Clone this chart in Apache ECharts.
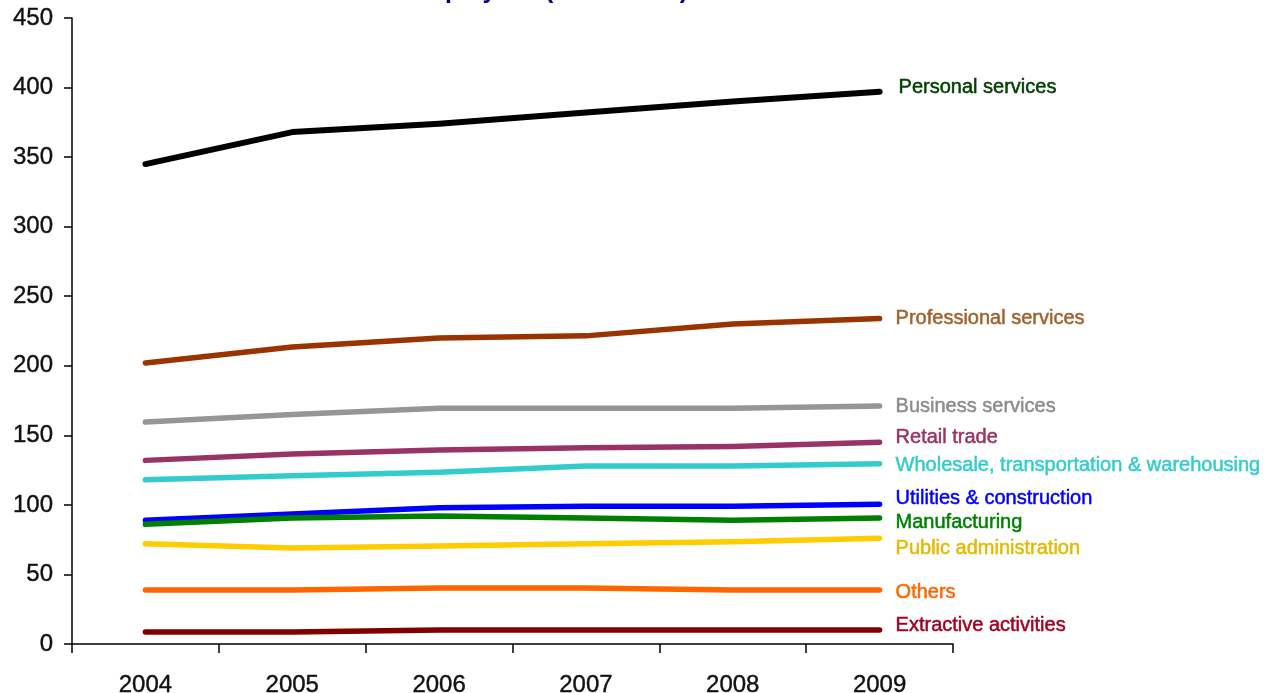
<!DOCTYPE html>
<html>
<head>
<meta charset="utf-8">
<script src="https://cdn.jsdelivr.net/npm/echarts@6/dist/echarts.min.js"></script>
<style>html,body{margin:0;padding:0;background:#fff}#c{width:1280px;height:693px}</style>
</head>
<body>
<div id="c"></div>
<script>
const years = ['2004','2005','2006','2007','2008','2009'];
const seriesNames = ['Personal services','Professional services','Business services','Retail trade','Wholesale, transportation & warehousing','Utilities & construction','Manufacturing','Public administration','Others','Extractive activities'];
const personal      = [345, 368, 374, 382, 390, 397];
const professional  = [202, 213.5, 220, 221.5, 230, 234];
const business      = [159.5, 165, 169.5, 169.5, 169.5, 171];
const retail        = [132, 136.5, 139.5, 141, 142, 145];
const wholesale     = [118, 121, 123.5, 128, 128, 129.5];
const utilities     = [89, 93.5, 98, 99, 99, 100.5];
const manufacturing = [86, 90.5, 92, 90.5, 89, 90.5];
const publicAdmin   = [72, 69, 70.5, 72, 73.5, 76];
const others        = [38.8, 38.8, 40.3, 40.3, 38.8, 38.8];
const extractive    = [8.6, 8.6, 10, 10, 10, 10];
const yTicks = [0,50,100,150,200,250,300,350,400,450];

const values = [personal, professional, business, retail, wholesale, utilities, manufacturing, publicAdmin, others, extractive];
const lineColors  = ['#000000','#993300','#969696','#993366','#33CCCC','#0000FF','#008000','#FFCC00','#FF6600','#800000'];
const labelColors = ['#004000','#A0622D','#8C8C8C','#993366','#33CCCC','#0000FF','#008000','#E6B800','#FF6600','#A50021'];
const labelDy     = [-4, 0, 0, -5, 2, -6, 4, 10, 2, -5];
const FONT = '"Liberation Sans", Arial, sans-serif';

const chart = echarts.init(document.getElementById('c'), null, {renderer:'canvas'});
chart.setOption({
  animation:false,
  backgroundColor:'#fff',
  graphic:[{
    type:'text', left:406, top:-21,
    style:{text:'Employees (thousands)', fill:'#000080', font:'bold 25px "Liberation Sans", Arial, sans-serif'}
  }],
  grid:{left:72, right:327, top:18, bottom:49, containLabel:false, outerBoundsMode:'none'},
  xAxis:{
    type:'category', data:years, boundaryGap:true,
    axisLine:{lineStyle:{color:'#000', width:1.5}},
    axisTick:{show:true, alignWithLabel:false, length:9, lineStyle:{color:'#000', width:1.5}},
    axisLabel:{color:'#111', fontSize:24, fontFamily:FONT, margin:29, textBorderColor:'#111', textBorderWidth:0.4},
    splitLine:{show:false}
  },
  yAxis:{
    type:'value', min:0, max:450, interval:50,
    axisLine:{show:true, lineStyle:{color:'#000', width:1.5}},
    axisTick:{show:true, length:8, lineStyle:{color:'#000', width:1.5}},
    axisLabel:{color:'#111', fontSize:24, fontFamily:FONT, margin:19, textBorderColor:'#111', textBorderWidth:0.4,
      formatter:v => yTicks.includes(v) ? String(v) : ''},
    splitLine:{show:false}
  },
  series: values.map((d,i)=>({
    name: seriesNames[i],
    type:'line',
    data:d,
    symbol:'none',
    lineStyle:{color:lineColors[i], width:i===0 ? 6 : 5.5, cap:'round', join:'round'},
    itemStyle:{color:lineColors[i]},
    endLabel:{
      show:true,
      formatter: seriesNames[i],
      color: labelColors[i],
      fontSize: 20,
      fontFamily: FONT,
      textBorderColor: labelColors[i],
      textBorderWidth: 0.5,
      distance: i===0 ? 19 : 16,
      offset:[0, labelDy[i]]
    }
  }))
});
</script>
</body>
</html>
